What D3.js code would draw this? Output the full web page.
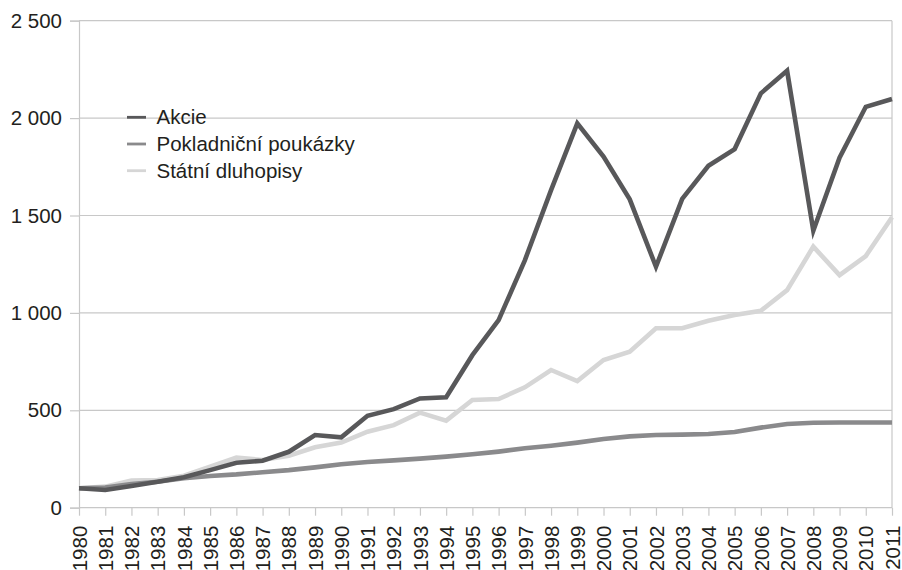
<!DOCTYPE html>
<html><head><meta charset="utf-8">
<script src="https://cdn.jsdelivr.net/npm/d3@7"></script>
<style>body{margin:0;background:#fff}svg{display:block}text{font-family:"Liberation Sans",Arial,sans-serif;fill:#231f20}</style>
</head><body><svg id="c" width="902" height="570"></svg>
<script>
const years = d3.range(1980, 2012).map(String);
const akcie = [100,91,111,133,156,193,231,241,287,373,361,472,506,561,567,783,963,1270,1630,1973,1802,1583,1237,1585,1755,1841,2127,2243,1422,1797,2058,2098];
const pokladnicni = [100,104,122,133,151,163,171,182,193,207,223,235,243,252,262,274,288,305,318,334,353,366,373,375,378,389,411,430,436,437,437,437];
const statni = [100,108,139,142,164,210,257,245,267,310,334,390,424,488,447,553,558,618,707,650,758,801,921,921,960,989,1011,1117,1340,1194,1292,1491];
const yTicks = [0,500,1000,1500,2000,2500];
const seriesNames = ["Akcie","Pokladniční poukázky","Státní dluhopisy"];
const seriesColors = ["#58585a","#8a8a8c","#d6d6d6"];
const seriesData = [akcie, pokladnicni, statni];

const svg = d3.select("#c");
const L = 79, R = 892, T = 20.7, B = 507.7;
const x = d3.scalePoint().domain(years).range([L, R]);
const y = d3.scaleLinear().domain([0, 2500]).range([B, T]);
const grid = "#c8c8c8";
const fmt = v => d3.format(",")(v).replace(/,/g, " ");

// gridlines
svg.append("g").selectAll("line").data(yTicks.slice(1)).join("line")
  .attr("x1", L).attr("x2", R).attr("y1", d => y(d)).attr("y2", d => y(d))
  .attr("stroke", grid).attr("stroke-width", 1.2);
// right border
svg.append("line").attr("x1", R).attr("x2", R).attr("y1", T).attr("y2", B)
  .attr("stroke", grid).attr("stroke-width", 1.2);

// y axis
const ya = svg.append("g").attr("transform", `translate(${L},0)`)
  .call(d3.axisLeft(y).tickValues(yTicks).tickFormat(fmt).tickSize(9).tickPadding(8));
ya.select(".domain").attr("stroke", grid).attr("stroke-width", 1.2);
ya.selectAll(".tick line").attr("stroke", grid).attr("stroke-width", 1.2);
ya.selectAll("text").attr("font-size", "20.5px").attr("fill", "#231f20")
  .style("font-family", '"Liberation Sans",Arial,sans-serif');

// x axis
const xa = svg.append("g").attr("transform", `translate(0,${B})`)
  .call(d3.axisBottom(x).tickSize(8).tickPadding(0));
xa.select(".domain").attr("stroke", grid).attr("stroke-width", 1.2).attr("d", `M${L},0H${R}`);
xa.selectAll(".tick line").attr("stroke", grid).attr("stroke-width", 1.2);
xa.selectAll("text").attr("font-size", "20.5px").attr("fill", "#231f20")
  .style("font-family", '"Liberation Sans",Arial,sans-serif')
  .attr("text-anchor", "end").attr("transform", "rotate(-90)")
  .attr("x", -18).attr("y", 0).attr("dy", "0.35em");

// lines
const line = d3.line().x((d, i) => x(years[i])).y(d => y(d));
[2, 1, 0].forEach(k => {
  svg.append("path").datum(seriesData[k]).attr("d", line)
    .attr("fill", "none").attr("stroke", seriesColors[k])
    .attr("stroke-width", 4.6).attr("stroke-linejoin", "miter");
});

// legend
const lg = svg.append("g");
seriesNames.forEach((n, i) => {
  const by = 124.3 + i * 26.7;
  lg.append("line").attr("x1", 127).attr("x2", 146).attr("y1", by - 7).attr("y2", by - 7)
    .attr("stroke", seriesColors[i]).attr("stroke-width", 2.8);
  lg.append("text").attr("x", 156.5).attr("y", by).attr("font-size", "20.5px").text(n);
});
</script></body></html>
